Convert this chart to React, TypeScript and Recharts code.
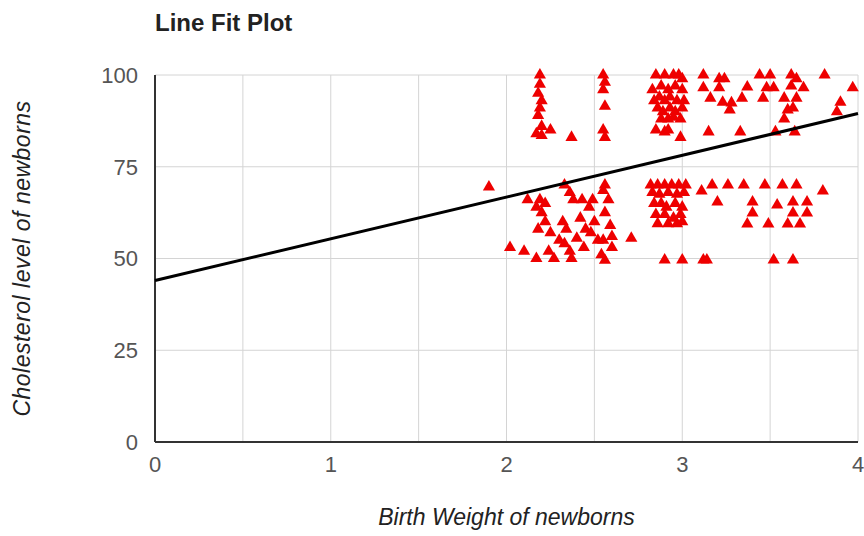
import React from 'react';
import {
  ComposedChart,
  Scatter,
  XAxis,
  YAxis,
  ZAxis,
  CartesianGrid
} from 'recharts';

// birth weight (x) and cholesterol level (y)
const birthWeight = [
  2.19, 2.19, 2.18, 2.2, 2.19, 2.18, 2.2, 2.17, 2.25, 2.2, 2.37,
  2.55, 2.56, 2.55, 2.56, 2.55, 2.56,
  2.85, 2.9, 2.95, 2.98, 3.0, 2.83, 2.88, 2.92, 2.96, 3.0,
  2.84, 2.87, 2.9, 2.93, 2.97, 3.01, 2.86, 2.89, 2.93, 2.96, 3.0,
  2.88, 2.92, 2.95, 2.99, 2.85, 2.9, 2.92, 2.99,
  3.12, 3.21, 3.24, 3.44, 3.5, 3.62, 3.65, 3.81, 3.97,
  3.12, 3.21, 3.37, 3.48, 3.52, 3.62, 3.69,
  3.16, 3.23, 3.28, 3.34, 3.46, 3.58, 3.65, 3.9,
  3.27, 3.6, 3.63, 3.88, 3.58,
  3.15, 3.33, 3.53, 3.64,
  1.9,
  2.02, 2.1, 2.12, 2.17, 2.19, 2.2, 2.22, 2.18, 2.25, 2.17, 2.24, 2.22,
  2.33, 2.36, 2.38, 2.32, 2.34, 2.3, 2.27, 2.36, 2.37, 2.33,
  2.43, 2.47, 2.42, 2.45, 2.4, 2.44, 2.49, 2.5, 2.48, 2.52,
  2.56, 2.55, 2.58, 2.56, 2.59, 2.55, 2.6, 2.54, 2.56, 2.6,
  2.71,
  2.82, 2.86, 2.9, 2.94, 2.98, 3.02, 2.83, 2.87, 2.92, 2.97, 3.01,
  2.84, 2.88, 2.91, 2.96, 3.0, 2.85, 2.9, 2.95, 2.99,
  2.86, 2.92, 2.97, 3.0,
  2.9, 3.0, 3.12, 3.14,
  3.11, 3.17, 3.26, 3.35, 3.47, 3.57, 3.65, 3.8,
  3.2, 3.4, 3.54, 3.63, 3.71,
  3.4, 3.63, 3.71,
  3.37, 3.49, 3.6, 3.67,
  3.52, 3.63
];

const cholesterol = [
  100, 97.5, 95, 93, 91, 89, 86, 84, 85, 83.5, 83,
  100, 98, 96, 91.5, 85, 83,
  100, 100, 100, 100, 99, 96, 97, 96, 97, 96,
  93, 94, 93, 94, 93, 93, 91, 90, 91, 90, 91,
  88, 88, 88.5, 88, 85, 84.5, 85, 83,
  100, 99, 99, 100, 100, 100, 99, 100, 96.5,
  96.5, 96.5, 96.7, 96.5, 96.5, 97, 96.5,
  93.7, 92.6, 92.4, 93.7, 93.7, 93.7, 93.7, 92.6,
  90.5, 90.5, 91, 90, 88,
  84.5, 84.5, 84.5, 84.5,
  69.5,
  53, 52, 66, 64, 66, 62.5, 60, 58, 57, 50, 52, 65,
  70, 68, 66, 60, 58, 55, 50, 52, 50, 54,
  66, 64, 61, 58, 55.5, 53, 66, 60, 57, 55,
  70, 68.5, 66, 62.5, 59, 55, 53, 51, 49.5, 56,
  55.5,
  70, 70, 70, 70, 70, 70, 68, 67.5, 68, 67.5, 68,
  65, 65, 64, 65, 64, 62, 62, 61, 62,
  59.5, 59.5, 59.5, 60,
  49.6, 49.6, 49.6, 49.6,
  68.4, 70, 70, 70, 70, 70, 70, 68.4,
  65.4, 65.4, 64.6, 65.4, 65.4,
  62.4, 62.4, 62.4,
  59.4, 59.4, 59.4, 59.4,
  49.6, 49.6
];

// trendline end points
const fitWeight = [0, 4];
const fitCholesterol = [44, 89.5];

// gridlines every 0.5, labels only on whole numbers
const xTicks = [0, 0.5, 1, 1.5, 2, 2.5, 3, 3.5, 4];
const yTicks = [0, 25, 50, 75, 100];

const points = birthWeight.map((x, i) => ({ x, y: cholesterol[i] }));
const fitLine = fitWeight.map((x, i) => ({ x, y: fitCholesterol[i] }));

const FONT = 'Arial, "Liberation Sans", sans-serif';

export default function App() {
  return (
    <div
      style={{
        position: 'absolute',
        left: 0,
        top: 0,
        width: 864,
        height: 536,
        background: '#fff',
        fontFamily: FONT
      }}
    >
      <div
        style={{
          position: 'absolute',
          left: 155,
          top: 9,
          fontSize: 24,
          fontWeight: 'bold',
          color: '#222'
        }}
      >
        Line Fit Plot
      </div>
      <ComposedChart
        width={864}
        height={536}
        margin={{ top: 75, right: 6, bottom: 0, left: 0 }}
      >
        <CartesianGrid stroke="#d4d4d4" strokeWidth={1} />
        <XAxis
          type="number"
          dataKey="x"
          domain={[0, 4]}
          ticks={xTicks}
          interval={0}
          height={94}
          axisLine={{ stroke: '#333', strokeWidth: 2 }}
          tickLine={false}
          tickSize={0}
          tickMargin={14}
          tickFormatter={(v: number) => (Number.isInteger(v) ? String(v) : '')}
          tick={{ fill: '#555', fontSize: 22, fontFamily: FONT }}
          label={{
            value: 'Birth Weight of newborns',
            position: 'insideBottom',
            offset: 11,
            style: { fill: '#222', fontSize: 23, fontStyle: 'italic', fontFamily: FONT }
          }}
        />
        <YAxis
          type="number"
          dataKey="y"
          domain={[0, 100]}
          ticks={yTicks}
          interval={0}
          width={155}
          axisLine={{ stroke: '#333', strokeWidth: 2 }}
          tickLine={false}
          tickSize={0}
          tickMargin={17}
          tick={{ fill: '#555', fontSize: 22, fontFamily: FONT }}
          label={{
            value: 'Cholesterol level of newborns',
            angle: -90,
            position: 'insideLeft',
            offset: 22,
            style: {
              fill: '#222',
              fontSize: 23,
              fontStyle: 'italic',
              fontFamily: FONT,
              textAnchor: 'middle',
              letterSpacing: 0.5
            }
          }}
        />
        <ZAxis range={[80, 80]} />
        <Scatter
          data={points}
          shape="triangle"
          fill="#ee0000"
          isAnimationActive={false}
        />
        <Scatter
          data={fitLine}
          line={{ stroke: '#000', strokeWidth: 3 }}
          shape={() => <g />}
          isAnimationActive={false}
        />
      </ComposedChart>
    </div>
  );
}
